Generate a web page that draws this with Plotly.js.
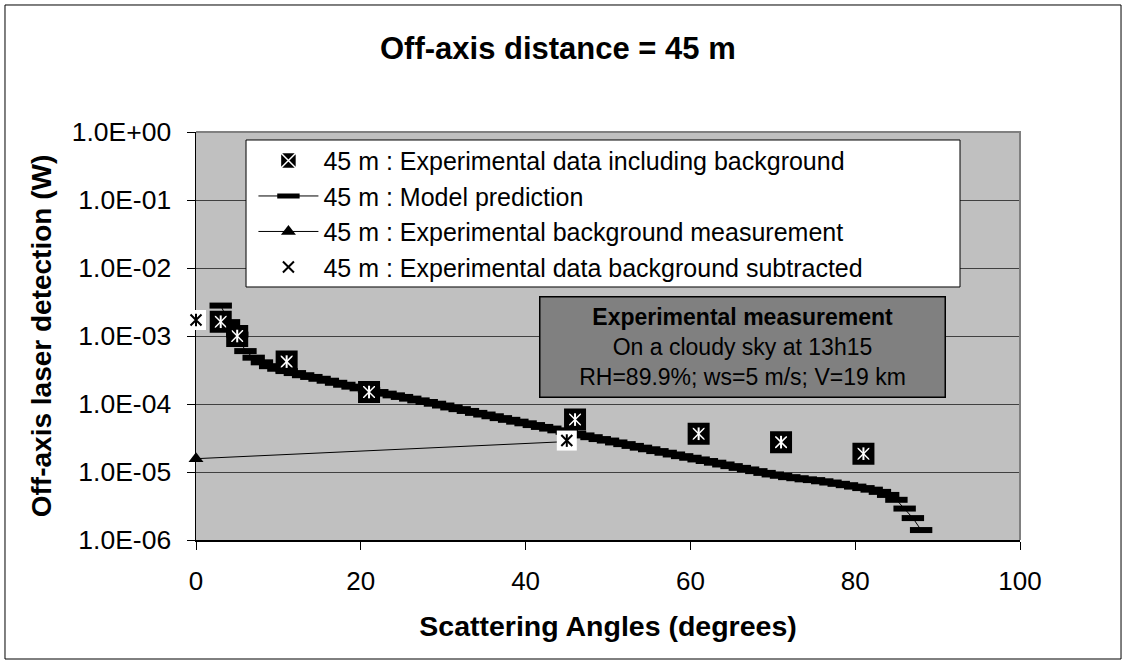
<!DOCTYPE html>
<html>
<head>
<meta charset="utf-8">
<script src="https://cdn.plot.ly/plotly-3.0.1.min.js"></script>
<style>html,body{margin:0;padding:0;background:#fff;}#chart{width:1127px;height:664px;}</style>
</head>
<body>
<div id="chart"></div>
<script>
// ---- data ----
const modelAngles = [3,4,5,6,7,8,9,10,11,12,13,14,15,16,17,18,19,20,21,22,23,24,25,26,27,28,29,30,31,32,33,34,35,36,37,38,39,40,41,42,43,44,45,46,47,48,49,50,51,52,53,54,55,56,57,58,59,60,61,62,63,64,65,66,67,68,69,70,71,72,73,74,75,76,77,78,79,80,81,82,83,84,85,86,87,88];
const modelValues = [2.8e-3,1.6e-3,1.05e-3,6.0e-4,4.8e-4,4.1e-4,3.6e-4,3.3e-4,3.05e-4,2.85e-4,2.65e-4,2.5e-4,2.35e-4,2.2e-4,2.05e-4,1.92e-4,1.8e-4,1.7e-4,1.6e-4,1.5e-4,1.42e-4,1.34e-4,1.27e-4,1.2e-4,1.13e-4,1.07e-4,1.01e-4,9.5e-5,8.9e-5,8.4e-5,7.9e-5,7.4e-5,7.0e-5,6.6e-5,6.2e-5,5.85e-5,5.5e-5,5.2e-5,4.9e-5,4.6e-5,4.35e-5,4.1e-5,3.9e-5,3.65e-5,3.45e-5,3.25e-5,3.05e-5,2.9e-5,2.72e-5,2.57e-5,2.42e-5,2.28e-5,2.16e-5,2.03e-5,1.92e-5,1.81e-5,1.71e-5,1.62e-5,1.53e-5,1.45e-5,1.37e-5,1.29e-5,1.22e-5,1.15e-5,1.09e-5,1.03e-5,9.7e-6,9.2e-6,8.8e-6,8.4e-6,8.1e-6,7.8e-6,7.6e-6,7.3e-6,7.0e-6,6.7e-6,6.4e-6,6.1e-6,5.8e-6,5.5e-6,5.1e-6,4.6e-6,3.9e-6,2.9e-6,2.1e-6,1.4e-6];

const expAngles = [3,5,11,21,46,61,71,81];
const expValues = [1.62e-3,1.0e-3,4.2e-4,1.5e-4,5.9e-5,3.65e-5,2.75e-5,1.86e-5];

const bgAngles = [0,45];
const bgValues = [1.57e-5,2.8e-5];

const subAngles = [0,45];
const subValues = [1.72e-3,2.9e-5];

const seriesNames = [
  '45 m : Experimental data including background',
  '45 m : Model prediction',
  '45 m : Experimental background measurement',
  '45 m : Experimental data background subtracted'
];

const yTickVals = [1e-6,1e-5,1e-4,1e-3,1e-2,1e-1,1];
const yTickText = ['1.0E-06','1.0E-05','1.0E-04','1.0E-03','1.0E-02','1.0E-01','1.0E+00'];
const xTickVals = [0,20,40,60,80,100];

const FONT = 'Liberation Sans, Arial, sans-serif';

// ---- traces ----
const traces = [
  { // model
    x: modelAngles, y: modelValues, name: seriesNames[1], legendrank: 2,
    type: 'scatter', mode: 'lines+markers',
    line: {color: '#000', width: 1},
    marker: {symbol: 'line-ew', size: 16, color: '#000', line: {color: '#000', width: 6}},
    cliponaxis: false
  },
  { // background
    x: bgAngles, y: bgValues, name: seriesNames[2], legendrank: 3,
    type: 'scatter', mode: 'lines+markers',
    line: {color: '#000', width: 1},
    marker: {symbol: 'triangle-up', size: 13, color: '#000'},
    cliponaxis: false
  },
  { // experimental incl. background (legend entry)
    x: expAngles, y: expValues, name: seriesNames[0], legendrank: 1,
    type: 'scatter', mode: 'markers',
    marker: {symbol: 'square-x', size: 19, color: '#000', line: {color: '#fff', width: 1.5}},
    cliponaxis: false
  },
  {
    x: expAngles, y: expValues, showlegend: false, hoverinfo: 'skip',
    type: 'scatter', mode: 'markers',
    marker: {symbol: 'square-open', size: 17, color: '#000', line: {color: '#000', width: 5}},
    cliponaxis: false
  },
  {
    x: expAngles, y: expValues, showlegend: false, hoverinfo: 'skip',
    type: 'scatter', mode: 'markers',
    marker: {symbol: 'line-ns-open', size: 9, color: '#fff', line: {color: '#fff', width: 2}},
    cliponaxis: false
  },
  { // subtracted: white box
    x: subAngles, y: subValues, showlegend: false, hoverinfo: 'skip',
    type: 'scatter', mode: 'markers',
    marker: {symbol: 'square', size: 20, color: '#fff', line: {width: 0}},
    cliponaxis: false
  },
  { // subtracted: asterisk (legend entry)
    x: subAngles, y: subValues, name: seriesNames[3], legendrank: 4,
    type: 'scatter', mode: 'markers',
    marker: {symbol: 'x-thin-open', size: 11, color: '#000', line: {color: '#000', width: 2}},
    cliponaxis: false
  },
  {
    x: subAngles, y: subValues, showlegend: false, hoverinfo: 'skip',
    type: 'scatter', mode: 'markers',
    marker: {symbol: 'line-ns-open', size: 9, color: '#000', line: {color: '#000', width: 2}},
    cliponaxis: false
  }
];

const layout = {
  width: 1127, height: 664,
  margin: {l: 196, r: 107, t: 132, b: 124, pad: 0},
  paper_bgcolor: '#fff', plot_bgcolor: '#c0c0c0',
  font: {family: FONT, color: '#000', size: 26},
  showlegend: true,
  title: {text: '<b>Off-axis distance = 45 m</b>', font: {family: FONT, size: 31, color: '#000'},
          x: 0.495, xref: 'container', y: 1 - 48/664, yref: 'container', xanchor: 'center', yanchor: 'middle'},
  xaxis: {
    range: [0, 100], tickvals: xTickVals, ticktext: xTickVals.map(String),
    showgrid: false, zeroline: false,
    showline: true, linecolor: '#000', linewidth: 1.5,
    ticks: 'outside', ticklen: 8, tickcolor: '#000', tickwidth: 1,
    tickfont: {family: FONT, size: 26, color: '#000'},
    ticklabelstandoff: 9,
    title: {text: '<b>Scattering Angles (degrees)</b>', font: {family: FONT, size: 28.5, color: '#000'}, standoff: 21},
    layer: 'below traces'
  },
  yaxis: {
    type: 'log', range: [-6, 0], tickvals: yTickVals, ticktext: yTickText,
    showgrid: true, gridcolor: '#404040', gridwidth: 1, zeroline: false,
    showline: true, linecolor: '#000', linewidth: 1.5,
    ticks: 'outside', ticklen: 8, tickcolor: '#000', tickwidth: 1,
    tickfont: {family: FONT, size: 26.5, color: '#000'},
    ticklabelstandoff: 10,
    title: {text: '<b>Off-axis laser detection (W)</b>', font: {family: FONT, size: 28, color: '#000'}, standoff: 12},
    layer: 'below traces'
  },
  legend: {
    x: 0.0697, y: 0.986, xanchor: 'left', yanchor: 'top',
    bgcolor: 'rgba(0,0,0,0)', borderwidth: 0,
    font: {family: FONT, size: 25, color: '#000'},
    tracegroupgap: 0, itemsizing: 'trace', itemwidth: 60
  },
  shapes: [
    {type: 'rect', xref: 'paper', yref: 'paper', x0: 0.0607, x1: 0.9272, y0: 0.6201, y1: 0.9804,
     fillcolor: '#fff', line: {color: '#000', width: 1}, layer: 'above'},
    {type: 'path', xref: 'paper', yref: 'paper', path: 'M0,1L1,1L1,0',
     line: {color: '#808080', width: 2}, layer: 'above'},
    {type: 'rect', xref: 'paper', yref: 'paper', x0: -0.2318, x1: 1.1226, y0: -0.2917, y1: 1.3113,
     fillcolor: 'rgba(0,0,0,0)', line: {color: '#000', width: 1}, layer: 'above'}
  ],
  annotations: [
    {xref: 'paper', yref: 'paper', x: 0.6632, y: 0.473, xanchor: 'center', yanchor: 'middle',
     showarrow: false, align: 'center', valign: 'middle',
     text: '<b>Experimental measurement</b><br>On a cloudy sky at 13h15<br>RH=89.9%; ws=5 m/s; V=19 km',
     font: {family: FONT, size: 23, color: '#000'},
     bgcolor: '#808080', bordercolor: '#000', borderwidth: 1.5, borderpad: 0,
     width: 404, height: 99}
  ]
};

Plotly.newPlot('chart', traces, layout, {staticPlot: true, displayModeBar: false});
</script>
</body>
</html>
